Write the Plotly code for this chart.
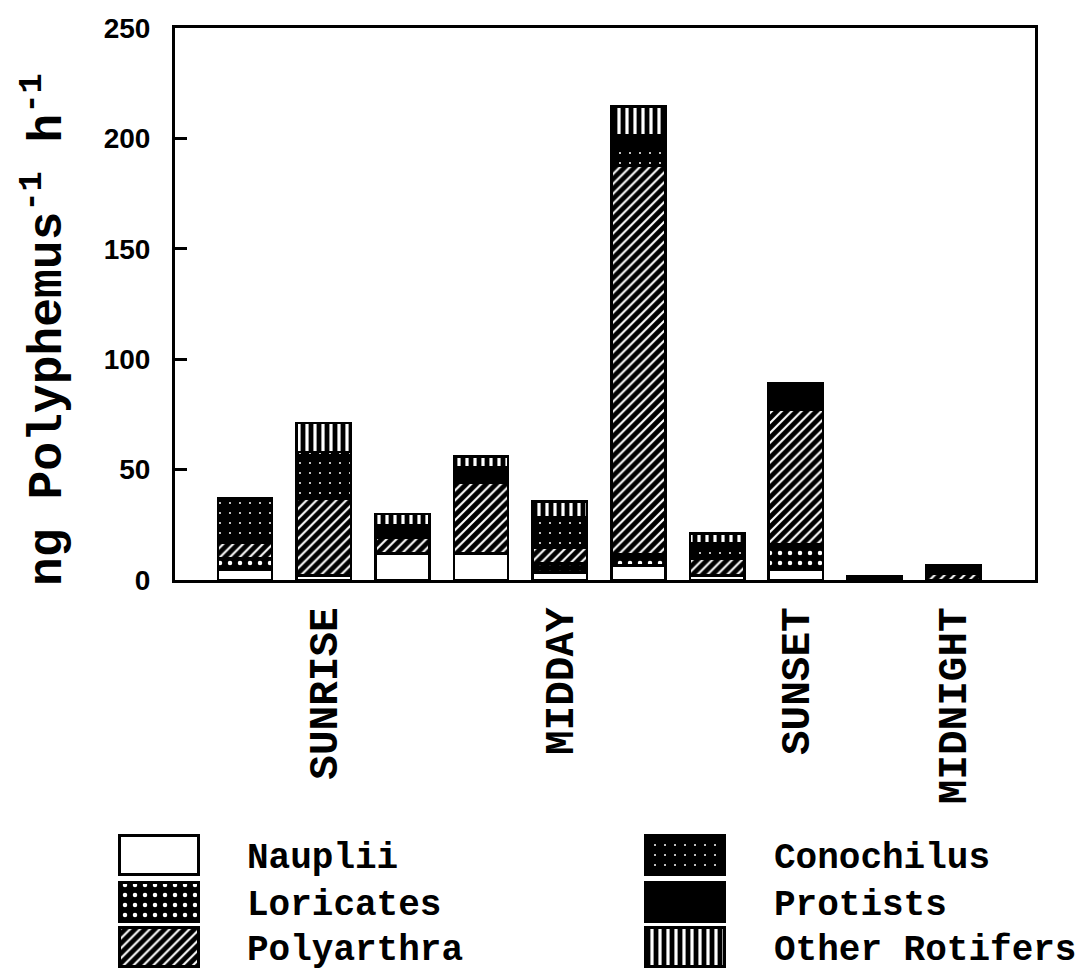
import plotly.graph_objects as go

# ---------------- data ----------------
positions = [1, 2, 3, 4, 5, 6, 7, 8, 9, 10]
tick_positions = [2, 5, 8, 10]
tick_labels = ["SUNRISE", "MIDDAY", "SUNSET", "MIDNIGHT"]

nauplii = [4.5, 2, 12, 12, 3.5, 6.5, 2, 4.5, 0, 0]
loricates = [5.5, 0, 0, 0, 4, 5, 0, 11.5, 0, 0]
polyarthra = [7, 35, 7, 32, 7, 176, 7.5, 61, 0, 3]
conochilus = [20, 21, 0, 4, 14, 10, 7, 3.5, 0, 3.5]
protists = [0, 0, 6, 3, 0, 4, 0, 8.5, 1.5, 0]
other_rotifers = [0, 13, 5, 5, 7, 13, 4.5, 0, 0, 0]

y_ticks = [0, 50, 100, 150, 200, 250]

series = [
    ("Nauplii", nauplii),
    ("Loricates", loricates),
    ("Polyarthra", polyarthra),
    ("Conochilus", conochilus),
    ("Protists", protists),
    ("Other Rotifers", other_rotifers),
]

# ---------------- styles ----------------
W, H = 1080, 976
MONO = "Liberation Mono"
SANS = "Liberation Sans"

styles = {
    "Nauplii": dict(color="white", pattern=dict(shape="")),
    "Loricates": dict(color="black", pattern=dict(shape=".", bgcolor="black", fgcolor="white",
                                                   size=10, solidity=0.16, fillmode="replace")),
    "Polyarthra": dict(color="black", pattern=dict(shape="/", bgcolor="black", fgcolor="white",
                                                    size=7, solidity=0.3, fillmode="replace")),
    "Conochilus": dict(color="black", pattern=dict(shape=".", bgcolor="black", fgcolor="white",
                                                    size=10, solidity=0.03, fillmode="replace")),
    "Protists": dict(color="black", pattern=dict(shape="")),
    "Other Rotifers": dict(color="black", pattern=dict(shape="|", bgcolor="black", fgcolor="white",
                                                        size=8, solidity=0.4, fillmode="replace")),
}

fig = go.Figure()

for name, vals in series:
    st = styles[name]
    fig.add_trace(go.Bar(
        x=positions, y=vals, name=name, width=0.69,
        marker=dict(color=st["color"], pattern=st["pattern"],
                    line=dict(color="black", width=2.5)),
        showlegend=False, xaxis="x", yaxis="y",
    ))

# ---------------- custom legend (pixel-space overlay axes) ----------------
legend_left_col = [("Nauplii", 0), ("Loricates", 1), ("Polyarthra", 2)]
legend_right_col = [("Conochilus", 0), ("Protists", 1), ("Other Rotifers", 2)]
row_centers = [855, 902, 947]
sw_w, sw_h = 79, 39
col_swatch_x = [119, 645]
col_text_x = [245, 772]

for ci, col in enumerate([legend_left_col, legend_right_col]):
    for name, ri in col:
        st = styles[name]
        fig.add_trace(go.Bar(
            x=[sw_w], y=[row_centers[ri]], base=[col_swatch_x[ci]], orientation="h",
            width=sw_h,
            marker=dict(color=st["color"], pattern=st["pattern"],
                        line=dict(color="black", width=3)),
            showlegend=False, xaxis="x2", yaxis="y2", hoverinfo="skip",
        ))
        fig.add_annotation(
            x=col_text_x[ci], y=row_centers[ri] + 3, xref="x2", yref="y2",
            text=name, showarrow=False, xanchor="left", yanchor="middle",
            font=dict(family=MONO, size=36, color="black", weight="bold"),
        )

# y-axis title
fig.add_annotation(
    x=44, y=330, xref="x2", yref="y2",
    text="ng Polyphemus<sup>-1</sup> h<sup>-1</sup>",
    textangle=-90, showarrow=False, xanchor="center", yanchor="middle",
    font=dict(family=MONO, size=48, color="black", weight="bold"),
)

x0, x1 = 175, 1035
y_top, y_bot = 28, 580

fig.update_layout(
    width=W, height=H, autosize=False,
    margin=dict(l=0, r=0, t=0, b=0, pad=0, autoexpand=False),
    paper_bgcolor="white", plot_bgcolor="rgba(0,0,0,0)",
    barmode="stack",
    showlegend=False,
    xaxis=dict(
        domain=[x0 / W, x1 / W], range=[0.11, 11.04], automargin=False,
        tickvals=tick_positions, ticktext=tick_labels, tickangle=-90,
        tickfont=dict(family=MONO, size=41, color="black", weight="bold"),
        ticks="", showgrid=False, zeroline=False,
        showline=True, linecolor="black", linewidth=3, mirror=True,
        ticklabelstandoff=8,
    ),
    yaxis=dict(
        domain=[1 - y_bot / H, 1 - y_top / H], range=[0, 250], automargin=False,
        tickvals=y_ticks,
        tickfont=dict(family=SANS, size=28, color="black", weight="bold"),
        ticks="inside", ticklen=12, tickwidth=2.5, tickcolor="black",
        showgrid=False, zeroline=False,
        showline=True, linecolor="black", linewidth=3, mirror=True,
        ticklabelstandoff=16,
    ),
    xaxis2=dict(domain=[0, 1], range=[0, W], visible=False, fixedrange=True, automargin=False),
    yaxis2=dict(domain=[0, 1], range=[H, 0], visible=False, fixedrange=True, automargin=False),
)

fig.write_html("out.html")
